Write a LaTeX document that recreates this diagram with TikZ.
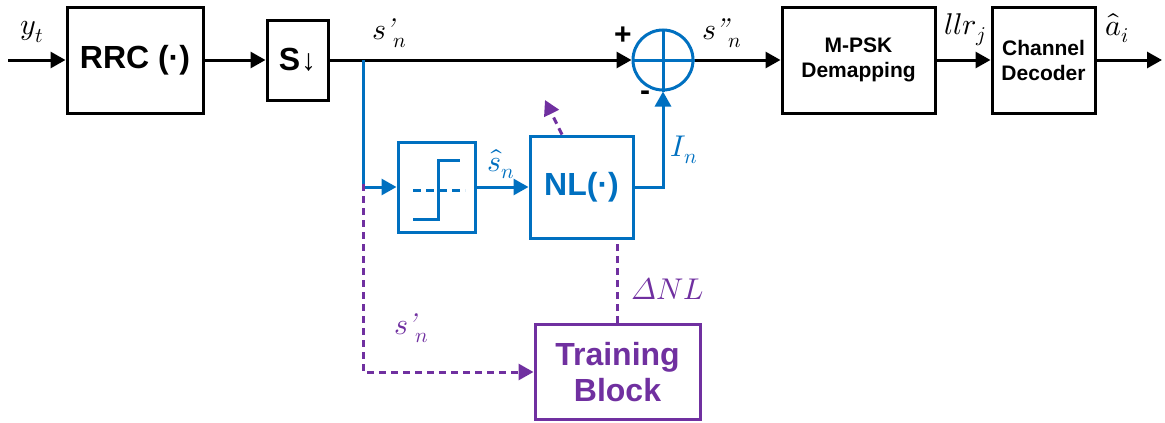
\documentclass[tikz,border=0pt]{standalone}
\usepackage{fontspec}
\usepackage{unicode-math}
\setsansfont{Liberation Sans}
\setmathfont{Latin Modern Math}
\usetikzlibrary{arrows.meta}

\definecolor{dspblue}{RGB}{0,112,192}
\definecolor{trainpurple}{RGB}{112,48,160}

\newcommand{\apos}{\mbox{\kern-2pt\itshape ’}}

\begin{document}
\begin{tikzpicture}[x=1pt, y=-1pt,
  >={Triangle[length=15pt,width=16pt]},
  sig/.style={line width=3pt},
  blk/.style={draw, line width=3pt, inner sep=0pt, align=center,
    font=\fontsize{32}{36}\selectfont\sffamily\bfseries},
  smallblk/.style={blk, font=\fontsize{21}{25}\selectfont\sffamily\bfseries},
  lbl/.style={font=\fontsize{30}{30}\selectfont},
  bluesig/.style={sig, dspblue},
  purpsig/.style={sig, trainpurple, dash pattern=on 7pt off 5pt}]

\useasboundingbox (0,0) rectangle (1165,423);

% Blocs principales
\node[blk, minimum width=136pt, minimum height=106pt] (rrc) at (135,60) {RRC (\textperiodcentered)};
\node[blk, minimum width=61pt, minimum height=80pt] (sdown) at (297.5,60) {S\kern1pt{\fontsize{30}{30}\selectfont\mdseries ↓}};
\node[smallblk, minimum width=153pt, minimum height=106pt] (mpsk) at (858.5,60) {M-PSK\\Demapping};
\node[smallblk, minimum width=103pt, minimum height=106pt] (dec) at (1043.5,60) {Channel\\Decoder};

% Sumador
\node[draw, dspblue, line width=3pt, circle, minimum size=60pt, inner sep=0pt] (sum) at (663,60) {};
\draw[bluesig] (sum.north) -- (sum.south);
\draw[bluesig] (sum.west) -- (sum.east);

% Decisor y no linealidad
\node[blk, dspblue, minimum width=77pt, minimum height=90pt] (quant) at (436.5,187) {};
\draw[bluesig] (413,219) -- (438,219) -- (438,160) -- (460,160);
\draw[bluesig, dash pattern=on 8pt off 5pt] (413,190) -- (465,190);
\node[blk, dspblue, minimum width=103pt, minimum height=102pt] (nl) at (581.5,187) {NL(\textperiodcentered)};

% Bloque de entrenamiento
\node[blk, trainpurple, minimum width=165pt, minimum height=95pt] (train) at (617.5,372) {Training\\Block};

% Camino principal
\coordinate (in) at (8,60);
\coordinate (out) at (1162,60);
\coordinate (br) at (363,60);
\coordinate (bq) at (363,187);
\draw[sig, ->] (in) -- (rrc.west);
\draw[sig, ->] (rrc.east) -- (sdown.west);
\draw[sig, ->] (sdown.east) -- (sum.west);
\draw[sig, ->] (sum.east) -- (mpsk.west);
\draw[sig, ->] (mpsk.east) -- (dec.west);
\draw[sig, ->] (dec.east) -- (out);

% Rama azul
\draw[bluesig, ->] (br) |- (quant.west);
\draw[bluesig, ->] (quant.east) -- (nl.west);
\draw[bluesig, ->] (nl.east) -| (sum.south);

% Rama de entrenamiento
\coordinate (adj) at (545,100);
\draw[purpsig, ->] ([yshift=3pt]bq) |- (train.west);
\draw[purpsig] (train.north) -- (train.north |- nl.south);
\draw[purpsig, ->] ([xshift=-19.5pt]nl.north) -- (adj);

% Etiquetas
\node[lbl] (yt) at (32,32) {$y_t$};
\node[lbl] (sp) at (390,33) {$s\apos_n$};
\node[lbl] (spp) at (722,33) {$s\mbox{\kern-2pt\itshape ”}_n$};
\node[lbl] (llr) at (965,30) {$llr_j$};
\node[lbl] (ahat) at (1117,28) {$\hat{a}_i$};
\node[lbl, dspblue] (shat) at (501,164) {$\hat{s}_n$};
\node[lbl, dspblue] (in_lbl) at (684,150) {$I_n$};
\node[lbl, trainpurple] (dnl) at (668,289) {$\symit{\Delta}NL$};
\node[lbl, trainpurple] (sp2) at (412,328) {$s\apos_n$};
\node[font=\fontsize{30}{30}\selectfont\sffamily\bfseries] (plus) at (623,36) {+};
\node[font=\fontsize{30}{30}\selectfont\sffamily\bfseries] (minus) at (645,96) {-};

\end{tikzpicture}
\end{document}
